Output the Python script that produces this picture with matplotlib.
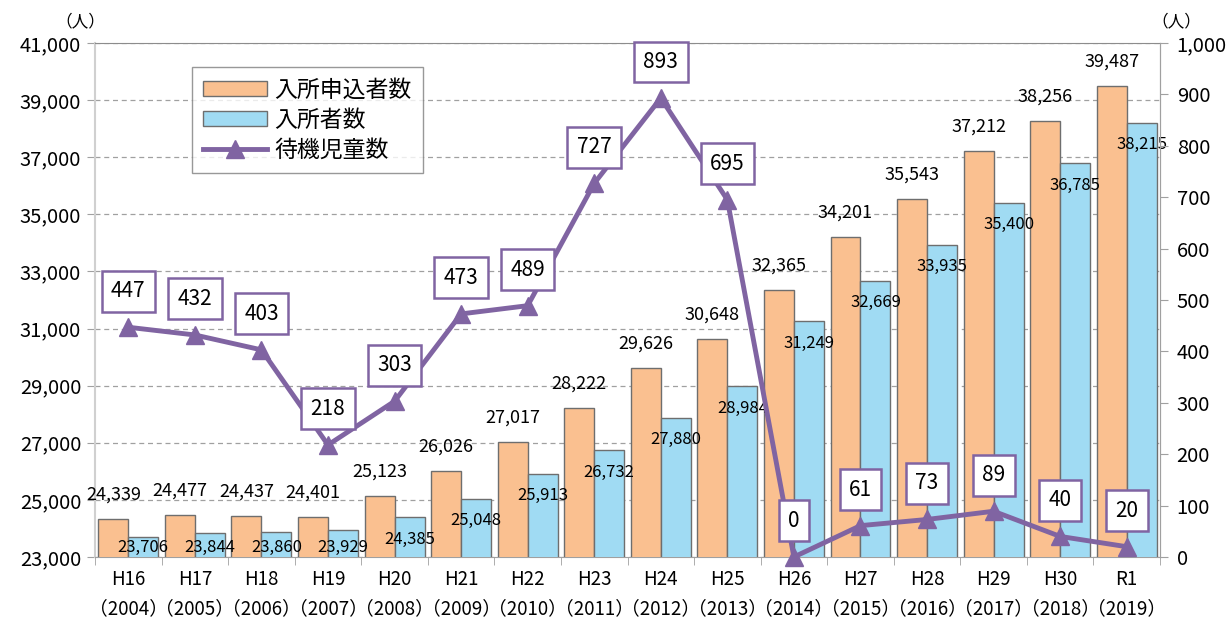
import matplotlib.pyplot as plt
import numpy as np

plt.rcParams['font.family'] = ['Noto Sans CJK JP', 'DejaVu Sans']

# data
years = ['H16\n（2004）', 'H17\n（2005）', 'H18\n（2006）', 'H19\n（2007）',
         'H20\n（2008）', 'H21\n（2009）', 'H22\n（2010）', 'H23\n（2011）',
         'H24\n（2012）', 'H25\n（2013）', 'H26\n（2014）', 'H27\n（2015）',
         'H28\n（2016）', 'H29\n（2017）', 'H30\n（2018）', 'R1\n（2019）']
applicants = [24339, 24477, 24437, 24401, 25123, 26026, 27017, 28222,
              29626, 30648, 32365, 34201, 35543, 37212, 38256, 39487]
admitted = [23706, 23844, 23860, 23929, 24385, 25048, 25913, 26732,
            27880, 28984, 31249, 32669, 33935, 35400, 36785, 38215]
waiting = [447, 432, 403, 218, 303, 473, 489, 727, 893, 695,
           0, 61, 73, 89, 40, 20]

orange = '#FAC090'
blue = '#A0DBF3'
purple = '#8064A2'
edge = '#6E6E6E'

fig = plt.figure(figsize=(12.28, 6.24), dpi=100)
ax = fig.add_axes([0.0774, 0.1074, 0.8672, 0.8236])
ax2 = ax.twinx()

x = np.arange(len(years))
w = 0.45
b1 = ax.bar(x - w / 2, applicants, w, color=orange, edgecolor=edge, lw=1,
            label='入所申込者数', zorder=3)
b2 = ax.bar(x + w / 2, admitted, w, color=blue, edgecolor=edge, lw=1,
            label='入所者数', zorder=3)

ax.set_ylim(23000, 41000)
ax.set_xlim(-0.5, len(years) - 0.5)
ax.set_yticks(range(23000, 41001, 2000))
ax.set_yticklabels([f'{v:,}' for v in range(23000, 41001, 2000)])
ax.set_xticks(x)
ax.set_xticklabels(years, fontsize=13.5, linespacing=1.5)
ax.set_xticks(np.arange(-0.5, len(years), 1), minor=True)
ax.tick_params(axis='x', which='major', length=0, pad=9)
ax.tick_params(axis='x', which='minor', length=6, color='#A0A0A0')
ax.tick_params(axis='y', labelsize=14.5, length=6, color='#A0A0A0', pad=4)
ax.grid(axis='y', ls=(0, (4, 3)), color='#A0A0A0', lw=0.9, zorder=0)
for s in ['left', 'right', 'bottom']:
    ax.spines[s].set_color('#A0A0A0')
ax.spines['top'].set_color('#8C8C8C')
ax.spines['left'].set_color('#D0D0D0')
ax.spines['left'].set_linewidth(1.5)

for xi, v in zip(x, applicants):
    ax.annotate(f'{v:,}', (xi - w / 2, v), xytext=(0, 11),
                textcoords='offset points', ha='center', va='bottom',
                fontsize=13, zorder=5)
for xi, v in zip(x, admitted):
    yl = max(v - 770, 23330)
    ax.text(xi + w / 2, yl, f'{v:,}', ha='center', va='center',
            fontsize=12, zorder=5)

ax2.set_ylim(0, 1000)
ax2.set_yticks(range(0, 1001, 100))
ax2.set_yticklabels([f'{v:,}' for v in range(0, 1001, 100)])
ax2.tick_params(axis='y', labelsize=14.5, length=6, color='#A0A0A0', pad=6)
for s in ax2.spines.values():
    s.set_visible(False)
ax2.spines['right'].set_visible(True)
ax2.spines['right'].set_color('#A0A0A0')
ln, = ax2.plot(x, waiting, color=purple, lw=3.5, marker='^', ms=13,
               label='待機児童数', zorder=6, clip_on=False)
for xi, v in zip(x, waiting):
    ax2.annotate(str(v), (xi, v), xytext=(0, 26), textcoords='offset points',
                 ha='center', va='center', fontsize=15, zorder=7,
                 bbox=dict(boxstyle='square,pad=0.45', fc='white',
                           ec=purple, lw=1.8))

leg = ax2.legend([b1, b2, ln], ['入所申込者数', '入所者数', '待機児童数'],
                 loc='upper left', bbox_to_anchor=(0.08, 0.975), fontsize=16.5,
                 frameon=True, fancybox=False, edgecolor='#7F7F7F',
                 handlelength=2.8, handleheight=0.6, handletextpad=0.3,
                 borderpad=0.5, labelspacing=0.3)
leg.get_frame().set_linewidth(1)

fig.text(0.065, 0.965, '（人）', fontsize=12, ha='center', va='center')
fig.text(0.958, 0.965, '（人）', fontsize=12, ha='center', va='center')

fig.savefig('out.png', dpi=100)
